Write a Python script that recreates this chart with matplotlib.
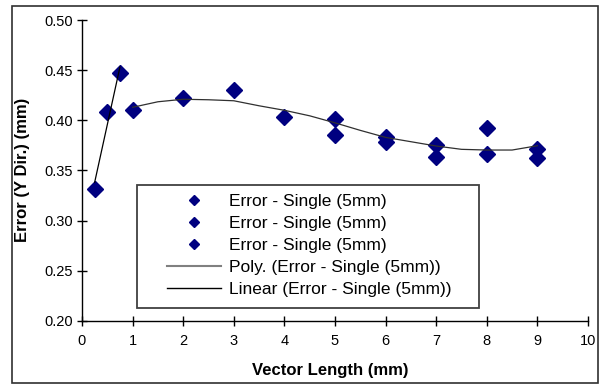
import numpy as np
import matplotlib
matplotlib.use("Agg")
import matplotlib.pyplot as plt
from matplotlib.lines import Line2D
from matplotlib.patches import Rectangle

plt.rcParams['font.family'] = ['Liberation Sans', 'DejaVu Sans']

# series
s1_x = [0.25, 0.5, 0.75]
s1_y = [0.332, 0.408, 0.447]
s2_x = [1, 2, 3, 4, 5, 6, 7, 8, 9]
s2_y = [0.410, 0.422, 0.430, 0.403, 0.401, 0.383, 0.375, 0.392, 0.371]
s3_x = [5, 6, 7, 8, 9]
s3_y = [0.385, 0.378, 0.363, 0.366, 0.362]

# polynomial trendline as drawn in the chart
trend_x = [1, 1.5, 2, 2.5, 3, 3.5, 4, 4.5, 5, 5.5, 6, 6.5, 7, 7.5, 8, 8.5, 9]
trend_y = [0.413, 0.4185, 0.421, 0.4205, 0.4195, 0.4145, 0.410, 0.4045, 0.3975,
           0.390, 0.383, 0.3787, 0.3744, 0.3711, 0.3704, 0.3704, 0.3747]

series_name = "Error - Single (5mm)"
navy = "#000080"

fig = plt.figure(figsize=(6.04, 3.85), dpi=100)
ax = fig.add_axes([82/604, 1 - 321/385, 506/604, 301/385])

for xs, ys in [(s1_x, s1_y), (s2_x, s2_y), (s3_x, s3_y)]:
    ax.plot(xs, ys, linestyle="none", marker="D", ms=8.5, color=navy, zorder=3)

# linear trend on the first series
k, b = np.polyfit(s1_x, s1_y, 1)
lx = np.array([min(s1_x), max(s1_x)])
ax.plot(lx, k * lx + b, color="black", lw=0.9, zorder=4)

# polynomial trend
ax.plot(trend_x, trend_y, color="#303030", lw=0.9, zorder=4)

ax.set_xlim(0, 10)
ax.set_ylim(0.20, 0.50)
ax.set_xticks(range(0, 11))
yt = np.arange(0.20, 0.501, 0.05)
ax.set_yticks(yt)
ax.set_yticklabels([f"{v:.2f}" for v in yt])
ax.tick_params(direction="inout", length=7, width=1, labelsize=10.5, colors="black")
ax.tick_params(axis="x", pad=6)
ax.tick_params(axis="y", pad=3)
for side in ["top", "right"]:
    ax.spines[side].set_visible(False)
for side in ["left", "bottom"]:
    ax.spines[side].set_linewidth(1)

fig.text(330/604, 1 - 371/385, "Vector Length (mm)", ha="center", va="center",
         fontsize=12, fontweight="bold")
fig.text(23/604, 1 - 170/385, "Error (Y Dir.) (mm)", ha="center", va="center",
         rotation=90, fontsize=12, fontweight="bold")

handles = [
    Line2D([], [], linestyle="none", marker="D", ms=5, color=navy),
    Line2D([], [], linestyle="none", marker="D", ms=5, color=navy),
    Line2D([], [], linestyle="none", marker="D", ms=5, color=navy),
    Line2D([], [], color="#808080", lw=1.5),
    Line2D([], [], color="black", lw=1),
]
labels = [series_name, series_name, series_name,
          "Poly. (" + series_name + ")", "Linear (" + series_name + ")"]
leg = ax.legend(handles, labels, loc="upper left", bbox_to_anchor=(0.168, 0.422),
                fontsize=12.5, frameon=False, borderaxespad=0, borderpad=0,
                handlelength=3.1, labelspacing=0.39, handletextpad=0.45)
# legend frame
ax.add_patch(Rectangle((0.1087, 0.0432), 0.676, 0.4086, transform=ax.transAxes,
                       facecolor="white", edgecolor="#404040", lw=1.3, zorder=5))
leg.set_zorder(6)

fig.patches.append(Rectangle((12/604, 1 - 383/385), 586/604, 377/385,
                             transform=fig.transFigure, fill=False,
                             edgecolor="#303030", lw=1.2))

fig.savefig("out.png", dpi=100)
